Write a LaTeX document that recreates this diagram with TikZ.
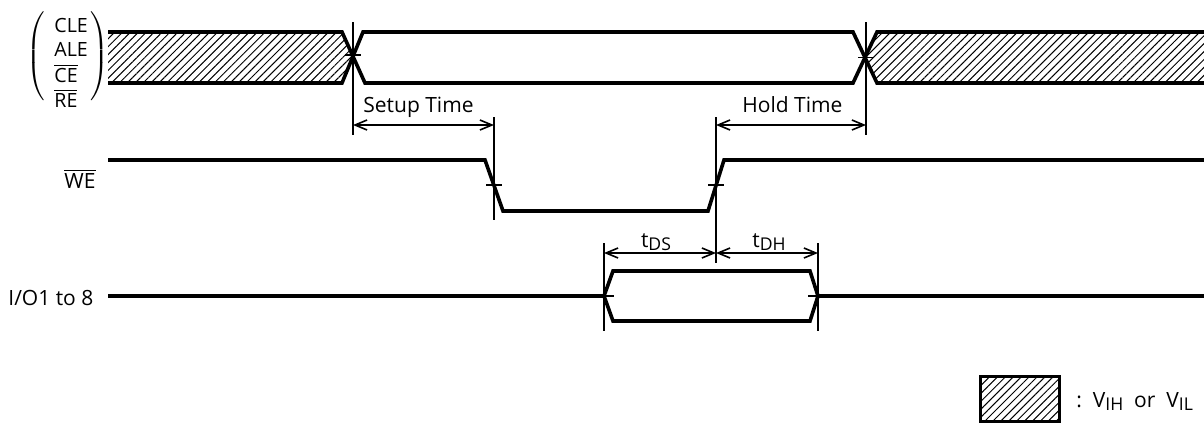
\documentclass[tikz,border=0pt]{standalone}
\usepackage{fontspec}
\setmainfont{Open Sans}
\usetikzlibrary{positioning,arrows.meta,patterns.meta}
\newcommand{\lowsub}[1]{\raisebox{-0.3ex}{\fontsize{8.8}{10}\selectfont #1}}
\newcommand{\tallparen}[2]{\resizebox*{!}{46pt}{$\left#1\vrule height 20pt depth 20pt width 0pt\right#2$}}
\tikzset{bus/.style = {line width=1.8pt},
         guide/.style = {line width=0.8pt},
         span/.style = {guide, {Straight Barb[length=6pt,width=5pt]}-{Straight Barb[length=6pt,width=5pt]}},
         hatch/.style = {pattern={Lines[angle=45,distance=2.8pt,line width=0.5pt]}},
         lbl/.style = {inner sep=0pt, font=\fontsize{10.5}{12.5}\selectfont},
         sig/.style = {lbl, anchor=base west, font=\fontsize{9.8}{12}\selectfont}}

\begin{document}
\begin{tikzpicture}[x=0.5pt,y=-0.5pt]
    \useasboundingbox (0,0) rectangle (1204,424);

    \fill [hatch] (108,32) -- (342,32) -- (353.5,57.5) -- (342,83) -- (108,83) -- cycle;
    \fill [hatch] (1204,32) -- (877,32) -- (865,57.5) -- (877,83) -- (1204,83) -- cycle;
    \draw [bus] (108,32) -- (342,32) -- (365,83) -- (853,83) -- (877,32) -- (1204,32);
    \draw [bus] (108,83) -- (342,83) -- (363,32) -- (853,32) -- (877,83) -- (1204,83);

    \draw [bus] (108,160) -- (485,160) -- (503,211) -- (708,211) -- (724,160) -- (1204,160);

    \draw [bus] (108,296) -- (604,296) -- (613,271) -- (810,271) -- (818,296) -- (1204,296);
    \draw [bus] (604,296) -- (613,321) -- (810,321) -- (818,296);

    \foreach \x/\a/\b in {353/22/135, 866/22/135, 494/117/220, 716/117/263, 604/243/331, 818/243/331}
        \draw [guide] (\x,\a) -- (\x,\b);
    \foreach \x/\y in {353/55, 866/57.5, 494/185, 716/185}
        \draw [guide] (\x-8,\y) -- (\x+8,\y);
    \draw [guide] (604,296) -- (614,296);
    \draw [guide] (808,296) -- (818,296);

    \coordinate (setupL) at (353,125);
    \coordinate (setupR) at (494,125);
    \coordinate (holdL)  at (716,125);
    \coordinate (holdR)  at (866,125);
    \coordinate (dsL)    at (604,253);
    \coordinate (dsR)    at (716,253);
    \coordinate (dhR)    at (818,253);

    \draw [span] (setupL) -- (setupR);
    \draw [span] (holdL) -- (holdR);
    \draw [span] (dsL) -- (dsR);
    \draw [span] (dsR) -- (dhR);

    \node [lbl, anchor=base west] (setup) at (363,112) {Setup Time};
    \node [lbl, anchor=base west] (hold)  at (742,112) {Hold Time};
    \node [lbl, anchor=base] (tds) at (656,247) {t\lowsub{DS}};
    \node [lbl, anchor=base] (tdh) at (769,247) {t\lowsub{DH}};

    \node [sig] (cle) at (54,32) {CLE};
    \node [sig] (ale) at (54,56) {ALE};
    \node [sig] (ce)  at (54,82) {$\overline{\mbox{CE}}$};
    \node [sig] (re)  at (54,107) {$\overline{\mbox{RE}}$};
    \node [inner sep=0pt] (lpar) at (37,58) {\tallparen{(}{.}};
    \node [inner sep=0pt] (rpar) at (98,58) {\tallparen{.}{)}};

    \node [lbl, anchor=base east] (we) at (96,188) {$\overline{\mbox{WE}}$};
    \node [lbl, anchor=base west] (io) at (8,305) {I/O1 to 8};

    \draw [bus, hatch, line width=1.5pt] (980,376) rectangle (1059,421);
    \node [lbl, anchor=base west] (key) at (1076,407) {:\ \ V\lowsub{IH}\ \ or\ \ V\lowsub{IL}};
\end{tikzpicture}
\end{document}
